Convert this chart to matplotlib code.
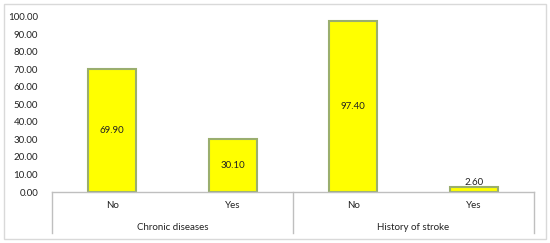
import matplotlib
matplotlib.use("Agg")
import matplotlib.pyplot as plt
import matplotlib.patches as mpatches

groups = ["Chronic diseases", "History of stroke"]
categories = ["No", "Yes", "No", "Yes"]
values = [69.90, 30.10, 97.40, 2.60]
yticks = [0, 10, 20, 30, 40, 50, 60, 70, 80, 90, 100]

plt.rcParams['font.family'] = ['Lato', 'DejaVu Sans']
W, H = 550, 243
fig = plt.figure(figsize=(W/100, H/100), dpi=100)
fig.patch.set_facecolor("white")
fig.add_artist(mpatches.Rectangle((4/W, 4/H), 542/W, 235/H, transform=fig.transFigure,
                                  fill=False, edgecolor="#D9D9D9", lw=1))

x0, x1 = 52, 534
ybot, ytop = 192, 16.7
ax = fig.add_axes([x0/W, (H-ybot)/H, (x1-x0)/W, (ybot-ytop)/H])
xs = list(range(len(values)))
ax.bar(xs, values, width=0.4, color="#FFFF00", edgecolor="#9AAE6E", linewidth=1.5)
ax.set_xlim(-0.5, len(values)-0.5)
ax.set_ylim(0, 100)
ax.set_yticks(yticks)
ax.set_yticklabels([f"{v:.2f}" for v in yticks], fontsize=7, color="#222222")
ax.tick_params(axis='y', length=0, pad=10)
ax.set_xticks([])
for s in ["top", "right", "left"]:
    ax.spines[s].set_visible(False)
ax.spines["bottom"].set_color("#BFBFBF")
ax.spines["bottom"].set_linewidth(1)

for x, v in zip(xs, values):
    yl = v/2 if v > 10 else v + 2.6
    ax.text(x, yl, f"{v:.2f}", ha="center", va="center", fontsize=7, color="#222222")

tr = ax.get_xaxis_transform()
dy_px = 233 - 192
dy = -dy_px / (192 - 16.7)
for xb in [-0.5, 1.5, 3.5]:
    ax.plot([xb, xb], [0, dy], transform=tr, color="#BFBFBF", lw=1, clip_on=False)
for x, c in zip(xs, categories):
    ax.text(x, -(205-192)/(192-16.7), c, transform=tr, ha="center", va="center",
            fontsize=7, color="#222222")
for i, g in enumerate(groups):
    ax.text(2*i + 0.5, -(227-192)/(192-16.7), g, transform=tr, ha="center", va="center",
            fontsize=7, color="#222222")

fig.savefig("out.png", dpi=100)
